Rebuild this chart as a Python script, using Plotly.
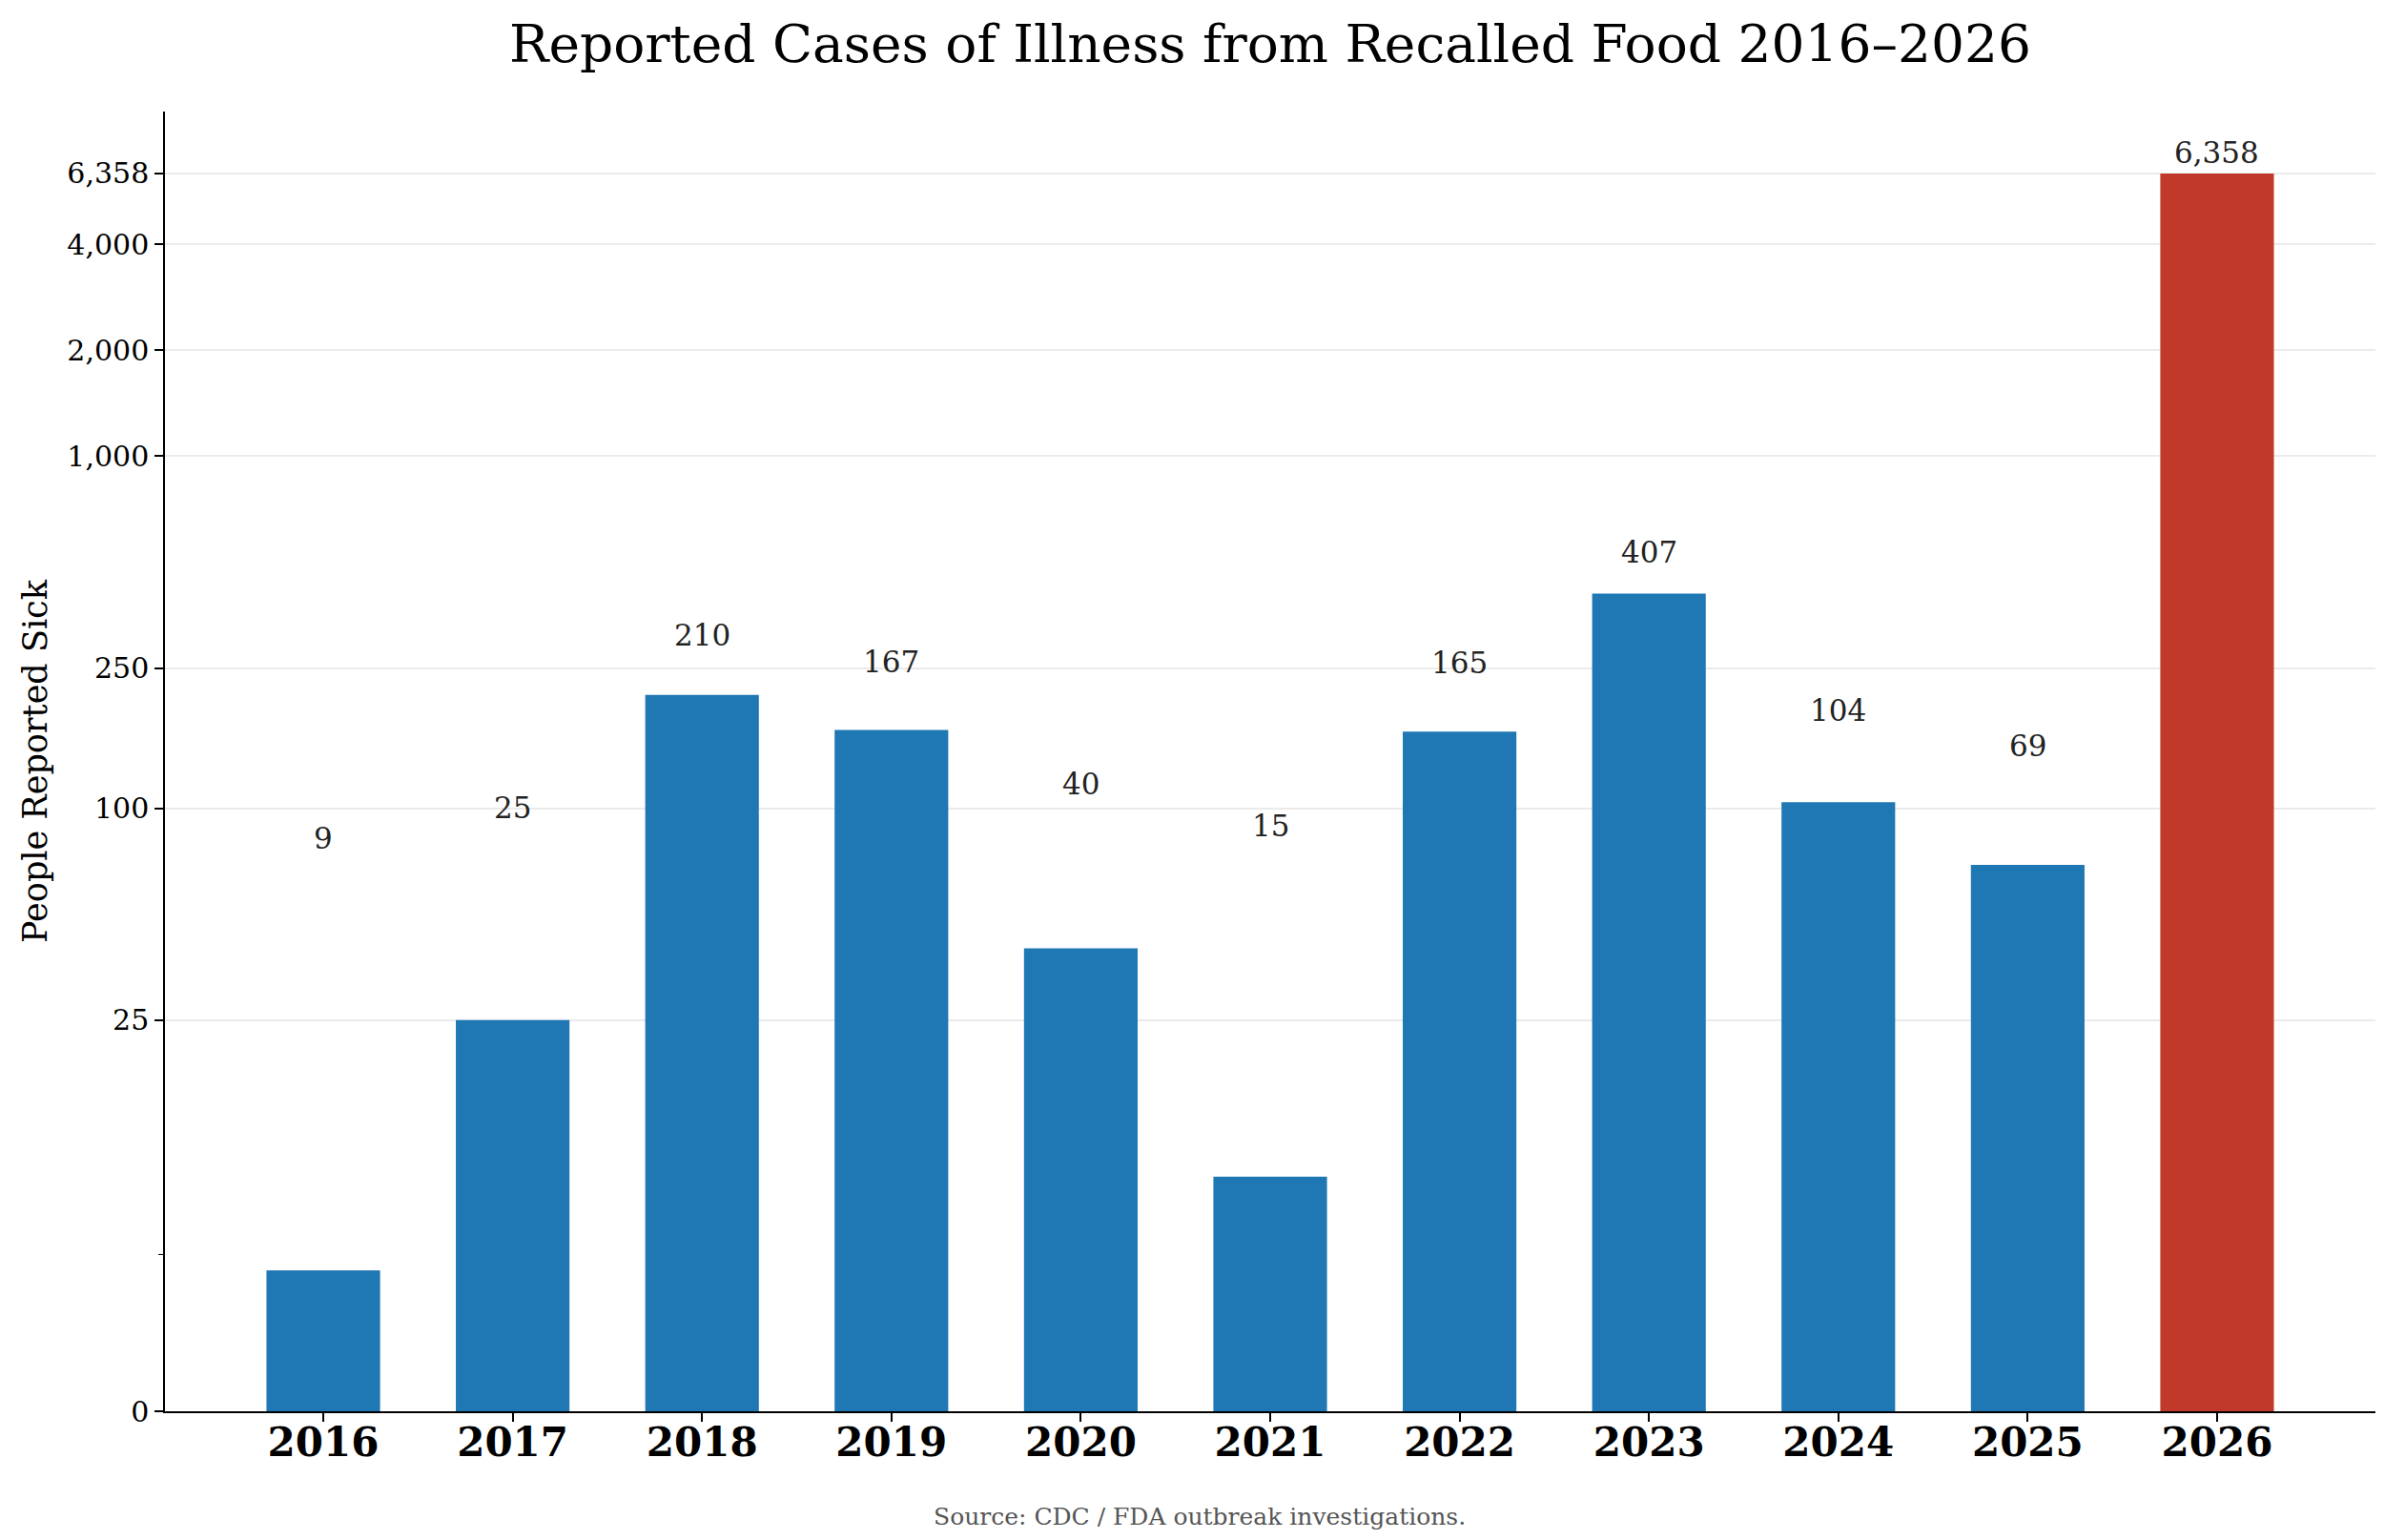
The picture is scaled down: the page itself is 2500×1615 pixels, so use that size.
import numpy as np
import plotly.graph_objects as go

# data
years = ["2016", "2017", "2018", "2019", "2020", "2021", "2022", "2023", "2024", "2025", "2026"]
sick = [9, 25, 210, 167, 40, 15, 165, 407, 104, 69, 6358]
bar_colors = ["#1f77b4"] * 10 + ["#c0392b"]
y_ticks = [0, 25, 100, 250, 1000, 2000, 4000, 6358]
y_minor = [10]

# symlog axis (linear below 25, log10 above), same as matplotlib symlog
LINTHRESH = 25.0
LINSCALE = 1.0 / (1.0 - 1.0 / 10.0)


def symlog(v):
    v = np.asarray(v, dtype=float)
    a = np.abs(v)
    lin = v / LINTHRESH * LINSCALE
    lg = np.sign(v) * (LINSCALE + np.log10(np.maximum(a, LINTHRESH) / LINTHRESH))
    return np.where(a <= LINTHRESH, lin, lg)


FONT = "DejaVu Serif"
ymax = max(sick)
y_top = float(symlog(ymax)) * 1.05
xpos = list(range(len(years)))

fig = go.Figure()
fig.add_trace(go.Bar(
    x=xpos,
    y=symlog(sick),
    width=0.6,
    marker_color=bar_colors,
    marker_line_width=0,
    customdata=sick,
    hovertemplate="%{customdata:,}<extra></extra>",
))

# value labels, just above each bar
for i, v in zip(xpos, sick):
    fig.add_annotation(
        x=i, y=float(symlog(v + 0.01 * ymax)),
        text=f"{v:,}", showarrow=False, yanchor="bottom",
        font=dict(family=FONT, size=31, color="#222222"),
    )

fig.add_annotation(
    text="Source: CDC / FDA outbreak investigations.",
    xref="paper", yref="paper", x=0.468, y=-0.0814,
    xanchor="center", yanchor="middle", showarrow=False,
    font=dict(family=FONT, size=25, color="#555555"),
)

fig.update_layout(
    width=2500, height=1615,
    paper_bgcolor="white", plot_bgcolor="white",
    margin=dict(l=165, r=17, t=109, b=143),
    showlegend=False,
    font=dict(family=FONT, color="black"),
    title=dict(
        text="Reported Cases of Illness from Recalled Food 2016\u20132026",
        x=0.5, xref="paper", y=1 - 38 / 1615, yref="container",
        xanchor="center", yanchor="middle",
        font=dict(family=FONT, size=55, color="black"),
    ),
)

fig.update_xaxes(
    range=[-0.836, 10.836],
    tickmode="array", tickvals=xpos, ticktext=years,
    showline=True, linecolor="black", linewidth=2,
    ticks="outside", ticklen=9, tickwidth=1.5, tickcolor="black",
    tickfont=dict(family=FONT, size=42, color="black", weight="bold"),
    ticklabelstandoff=-14,
    showgrid=False, zeroline=False, automargin=False,
)

fig.update_yaxes(
    range=[0, y_top],
    tickmode="array",
    tickvals=symlog(y_ticks),
    ticktext=[f"{t:,}" for t in y_ticks],
    showline=True, linecolor="black", linewidth=1.5,
    ticks="outside", ticklen=9, tickwidth=1.5, tickcolor="black",
    tickfont=dict(family=FONT, size=30, color="black"),
    showgrid=True, gridcolor="#ebebeb", gridwidth=2,
    zeroline=False, automargin=False,
    minor=dict(tickmode="array", tickvals=symlog(y_minor), ticks="outside",
               ticklen=5, tickwidth=1.2, tickcolor="black", showgrid=False),
    title=dict(text="People Reported Sick", standoff=10,
               font=dict(family=FONT, size=35, color="black")),
)

fig.write_html("out.html")
